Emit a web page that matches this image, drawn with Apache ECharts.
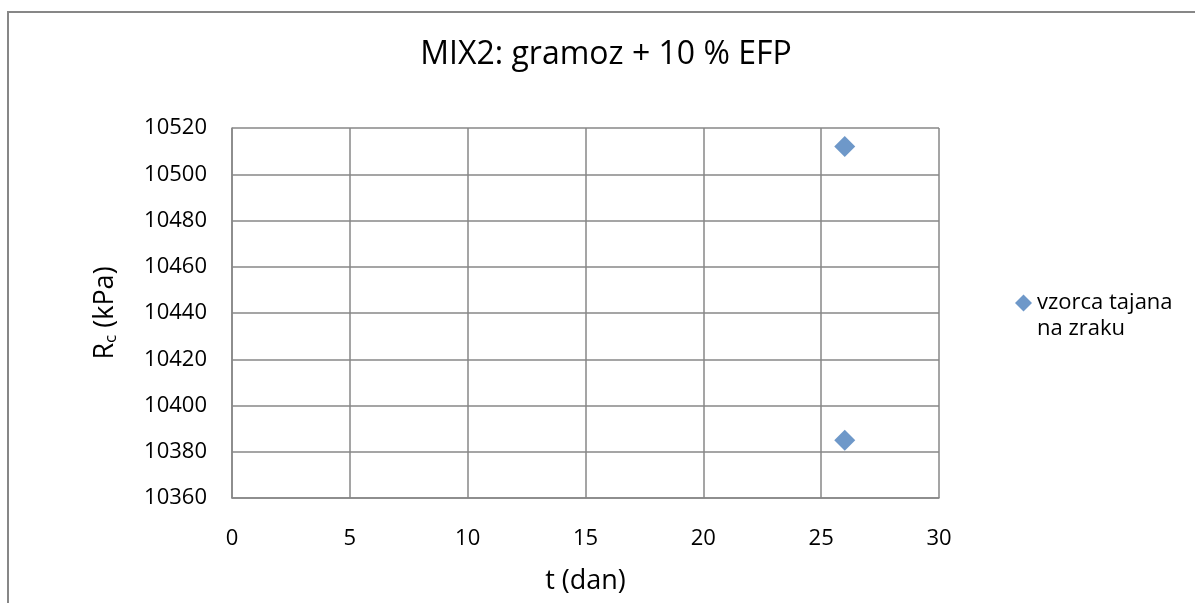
<!DOCTYPE html>
<html>
<head>
<meta charset="utf-8">
<script src="https://cdn.jsdelivr.net/npm/echarts@6/dist/echarts.min.js"></script>
<style>
html,body{margin:0;padding:0;background:#fff;}
#c{width:1195px;height:603px;}
</style>
</head>
<body>
<div id="c"></div>
<script>
const titleText = 'MIX2: gramoz + 10 % EFP';
const seriesName = 'vzorca tajana\nna zraku';
const days = [26, 26];
const strength = [10512, 10385];
const xTicks = {min: 0, max: 30, interval: 5};
const yTicks = {min: 10360, max: 10520, interval: 20};

const FONT = 'Open Sans';
const chart = echarts.init(document.getElementById('c'), null, {renderer: 'canvas'});
chart.setOption({
  backgroundColor: '#fff',
  animation: false,
  graphic: [{
    type: 'rect', silent: true,
    shape: {x: 8, y: 12, width: 1400, height: 800},
    style: {fill: 'none', stroke: '#878787', lineWidth: 2}
  }],
  title: {
    text: titleText,
    left: 601, top: 34, textAlign: 'center',
    textStyle: {fontFamily: FONT, fontSize: 32, fontWeight: 'normal', color: '#000'}
  },
  legend: {
    orient: 'vertical', left: 1010, top: 259,
    icon: 'diamond', itemWidth: 17, itemHeight: 17,
    formatter: name => '\n' + name,
    textStyle: {fontFamily: FONT, fontSize: 22, color: '#000', lineHeight: 26},
    data: [seriesName]
  },
  grid: {left: 232, right: 256, top: 128, bottom: 105},
  xAxis: {
    type: 'value', min: xTicks.min, max: xTicks.max, interval: xTicks.interval,
    name: 't (dan)', nameLocation: 'middle', nameGap: 70,
    nameTextStyle: {fontFamily: FONT, fontSize: 27, color: '#000'},
    axisLine: {show: true, lineStyle: {color: '#878787', width: 1.5}},
    axisTick: {show: false},
    axisLabel: {fontFamily: FONT, fontSize: 22, color: '#000', margin: 30},
    splitLine: {show: true, lineStyle: {color: '#878787', width: 1.5}}
  },
  yAxis: {
    type: 'value', min: yTicks.min, max: yTicks.max, interval: yTicks.interval,
    name: 'R{sub|c} (kPa)', nameLocation: 'middle', nameGap: 112,
    nameTextStyle: {
      fontFamily: FONT, fontSize: 27, color: '#000',
      rich: {sub: {fontFamily: FONT, fontSize: 17, color: '#000', verticalAlign: 'bottom', padding: [12, 0, 0, 0]}}
    },
    axisLine: {show: true, lineStyle: {color: '#878787', width: 1.5}},
    axisTick: {show: false},
    axisLabel: {fontFamily: FONT, fontSize: 22, color: '#000', margin: 25, formatter: v => String(v)},
    splitLine: {show: true, lineStyle: {color: '#878787', width: 1.5}}
  },
  series: [{
    type: 'scatter', name: seriesName,
    symbol: 'diamond', symbolSize: 21,
    itemStyle: {color: '#4a7ebb'},
    data: days.map((d, i) => [d, strength[i]])
  }]
});
</script>
</body>
</html>
